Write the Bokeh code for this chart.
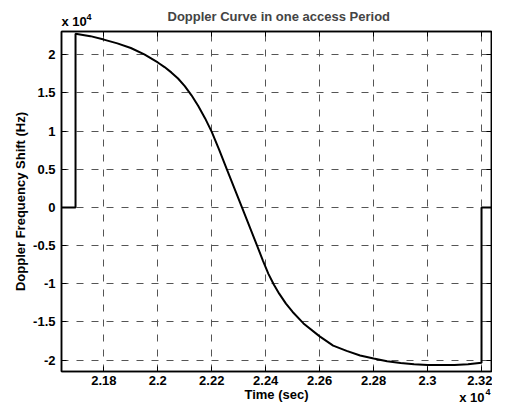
from bokeh.plotting import figure
from bokeh.models import Range1d, FixedTicker, LinearAxis, Title
from bokeh.embed import file_html
from bokeh.resources import INLINE

# Time (s) and Doppler shift (Hz)
time_s = [21643, 21695, 21695, 21750, 21800, 21850, 21900, 21950, 22000, 22025,
          22050, 22075, 22100, 22125, 22150, 22175, 22200, 22228, 22256, 22312,
          22368, 22390, 22410, 22430, 22450, 22475, 22500, 22540, 22600, 22650,
          22700, 22750, 22800, 22850, 22900, 22950, 23000, 23100, 23150, 23200,
          23200, 23272]
doppler_hz = [0, 0, 22770, 22450, 22000, 21500, 20900, 20050, 19000, 18400,
              17700, 16900, 15900, 14700, 13300, 11700, 9900, 7500, 5000, 0,
              -5000, -7000, -8700, -10100, -11300, -12600, -13700, -15200, -16900, -18100,
              -18800, -19400, -19800, -20150, -20400, -20550, -20650, -20650, -20550, -20350,
              0, 0]

x_ticks = [21800, 22000, 22200, 22400, 22600, 22800, 23000, 23200]
x_tick_labels = ["2.18", "2.2", "2.22", "2.24", "2.26", "2.28", "2.3", "2.32"]
y_ticks = [-20000, -15000, -10000, -5000, 0, 5000, 10000, 15000, 20000]
y_tick_labels = ["-2", "-1.5", "-1", "-0.5", "0", "0.5", "1", "1.5", "2"]
exponent_text = "x 10"
exponent_power = "4"

x_limits = (21643, 23237)
y_limits = (-21500, 23060)

FONT = "Liberation Sans"

p = figure(width=492, height=404, output_backend="svg", toolbar_location=None,
           x_range=Range1d(*x_limits), y_range=Range1d(*y_limits),
           min_border_left=61, min_border_right=1, min_border_top=31,
           min_border_bottom=32, background_fill_color="white",
           border_fill_color="white",
           title="Doppler Curve in one access Period")

p.title.align = "left"
p.title.offset = 106
p.title.vertical_align = "bottom"
p.title.text_font = FONT
p.title.text_font_size = "13px"
p.title.text_font_style = "bold"
p.title.standoff = -30

xt = FixedTicker(ticks=x_ticks)
yt = FixedTicker(ticks=y_ticks)

for ax in p.xaxis:
    ax.ticker = xt
    ax.major_label_overrides = dict(zip(x_ticks, x_tick_labels))
    ax.axis_label = "Time (sec)"
for ax in p.yaxis:
    ax.ticker = yt
    ax.major_label_overrides = dict(zip(y_ticks, y_tick_labels))
    ax.axis_label = "Doppler Frequency Shift (Hz)"

for ax in p.xaxis + p.yaxis:
    ax.major_tick_in = 5
    ax.major_tick_out = 0
    ax.minor_tick_line_color = None
    ax.major_tick_line_color = "black"
    ax.axis_line_color = "black"
    ax.axis_line_width = 1.5
    ax.major_label_text_font = FONT
    ax.major_label_text_font_size = "13px"
    ax.major_label_text_font_style = "bold"
    ax.major_label_text_color = "black"
    ax.axis_label_text_font = FONT
    ax.axis_label_text_font_size = "13px"
    ax.axis_label_text_font_style = "bold"
    ax.axis_label_text_color = "black"

p.xaxis.major_label_standoff = 4
p.xaxis.axis_label_standoff = -1
p.yaxis.major_label_standoff = 6
p.yaxis.axis_label_standoff = 2

# box ticks on top and right (no labels)
for loc in ("above", "right"):
    ax = LinearAxis(ticker=xt if loc == "above" else yt,
                    major_tick_in=5, major_tick_out=0,
                    minor_tick_line_color=None,
                    major_label_text_font_size="0px",
                    major_label_text_color=None,
                    major_label_standoff=0,
                    axis_line_color="black", axis_line_width=1.5)
    p.add_layout(ax, loc)

def exp_title(text, size, align, valign, offset, standoff):
    return Title(text=text, align=align, vertical_align=valign, offset=offset,
                 standoff=standoff, text_font=FONT, text_font_size=size,
                 text_font_style="bold", text_color="black")

# exponent labels (x 10^4): top-left for the y axis, bottom-right for the x axis
p.add_layout(exp_title(exponent_text, "13px", "left", "bottom", 0, 6), "above")
p.add_layout(exp_title(exponent_power, "9px", "left", "bottom", 25, -22), "above")
p.add_layout(exp_title(exponent_text, "13px", "right", "top", 7, -29), "below")
p.add_layout(exp_title(exponent_power, "9px", "right", "top", 1, -31), "below")

p.xgrid.ticker = xt
p.ygrid.ticker = yt
p.grid.grid_line_color = "#555555"
p.grid.grid_line_dash = "7 8"
p.grid.grid_line_width = 1

p.outline_line_color = "black"
p.outline_line_width = 1.5

p.line(time_s, doppler_hz, line_color="black", line_width=2)

open("out.html", "w").write(file_html(p, INLINE))
